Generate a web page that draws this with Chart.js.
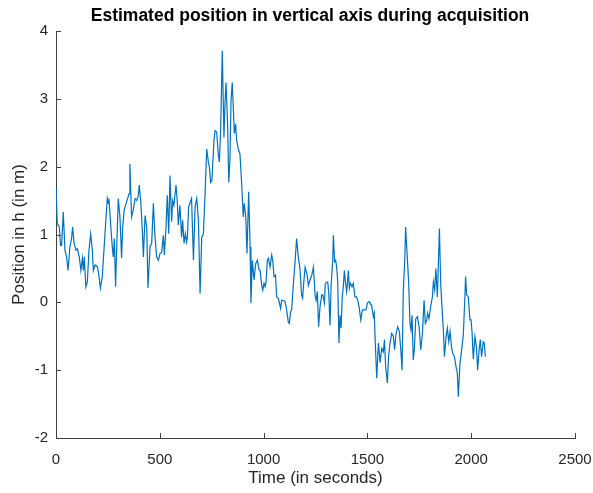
<!DOCTYPE html>
<html>
<head>
<meta charset="utf-8">
<script src="https://cdn.jsdelivr.net/npm/chart.js@4"></script>
<style>
html,body{margin:0;padding:0;background:#fff;}
canvas{display:block;}
</style>
</head>
<body>
<canvas id="c" width="593" height="493"></canvas>
<script>
const chartTitle = "Estimated position in vertical axis during acquisition";
const xAxisTitle = "Time (in seconds)";
const yAxisTitle = "Position in h (in m)";
const xTickValues = [0, 500, 1000, 1500, 2000, 2500];
const yTickValues = [-2, -1, 0, 1, 2, 3, 4];

const times = [
0,6,16,22,27,35,43,51,58,67,75,80,87,96,103,112,120,127,132,136,144,151,159,167,175,180,188,199,205,214,223,236,247,252,255,263,271,276,281,287,292,300,308,316,321,328,340,352,356,364,372,381,389,397,401,408,416,421,429,437,443,453,461,469,477,485,493,501,509,517,522,530,536,543,549,557,562,568,578,584,589,597,
605,610,617,623,629,633,639,
645,653,662,670,678,686,694,702,710,718,726,734,739,745,751,761,766,774,782,787,793,801,809,814,819,827,832,838,843,849,854,859,865,870,878,886,894,902,907,914,920,928,935,939,946,954,962,970,978,
983,991,996,1002,1007,1012,1018,1023,1031,1039,1044,1050,1057,1063,1071,1082,1087,1095,1103,1111,1119,1124,1130,1135,1143,1151,1159,1167,1175,1183,1188,1193,1200,1208,1216,1224,1232,1240,1248,1253,1259,1265,1272,1280,1285,1293,1297,1304,1309,1314,1320,1325,1333,1336,1342,1347,1352,1357,1363,1368,1373,1379,1384,1389,1394,1400,1405,1408,1413,1418,1426,1432,1440,1448,1455,1461,1468,1476,1484,1493,1500,1508,
1512,1520,1529,1533,1538,1545,1553,1561,1569,1577,1582,1588,1596,1602,1609,1617,1625,1631,1638,1646,1654,1662,1667,1673,1680,1684,1692,1699,1705,1710,1715,1721,1726,1733,1741,1749,1757,1765,1773,1779,1786,1790,1797,1805,1813,1818,1824,1830,1837,1847,1853,1859,1866,1871,1879,1885,1892,1898,1906,1911,1919,1927,1933,1938,1946,1954,1962,1969,1973,1978,1986,1994,1999,2004,2010,2018,2025,2031,2038,2044,2050,2058,2063,2068
];

const positions = [
1.70,1.16,1.11,0.84,0.84,1.33,0.77,0.67,0.47,0.82,0.94,1.11,0.87,0.77,0.79,0.67,0.47,0.65,0.47,0.67,0.23,0.30,0.77,1.01,0.77,0.47,0.55,0.53,0.43,0.21,0.38,1.01,1.53,1.46,1.53,1.16,0.82,0.67,0.94,0.23,0.77,1.53,1.26,0.65,1.09,1.36,1.48,1.60,2.04,1.26,1.36,1.53,1.50,1.58,1.73,1.50,1.06,0.67,1.28,1.11,0.21,0.82,0.87,1.46,0.96,0.67,0.62,0.72,0.74,0.99,0.70,1.11,1.58,1.01,1.87,1.19,1.50,1.43,1.73,1.50,1.14,1.43,
0.96,1.21,0.87,1.01,0.89,0.96,1.41,
1.46,1.53,0.62,1.41,1.53,1.21,0.13,0.96,1.01,1.60,2.26,2.07,1.99,1.77,1.80,2.39,2.53,2.51,2.17,2.07,2.53,3.71,2.43,2.93,3.24,2.58,1.77,2.11,2.97,3.24,2.88,2.49,2.63,2.39,2.26,2.19,1.77,1.26,1.46,1.26,0.72,1.63,0.82,-0.01,0.62,0.33,0.57,0.62,0.48,
0.47,0.25,0.18,0.28,0.23,0.30,0.62,0.65,0.52,0.70,0.62,0.38,0.40,0.08,0.06,-0.09,0.03,0.03,0.01,-0.11,-0.29,-0.31,-0.14,-0.11,0.25,0.57,0.94,0.67,0.50,0.11,0.06,0.28,0.52,0.43,0.25,0.33,0.40,0.52,0.11,0.03,0.16,-0.36,-0.06,0.11,0.11,-0.01,0.27,0.30,0.30,0.13,-0.34,0.23,0.62,0.99,0.60,0.62,0.52,0.30,-0.60,-0.19,-0.38,0.08,0.23,0.47,0.30,0.16,0.33,0.47,0.21,0.28,0.23,0.28,0.08,0.08,0.01,-0.09,-0.26,-0.11,-0.11,-0.11,-0.01,0.01,
-0.01,-0.04,-0.21,-0.16,-0.60,-1.12,-0.60,-0.89,-0.68,-0.73,-0.55,-0.95,-1.19,-0.80,-0.60,-0.46,-0.50,-0.70,-0.46,-0.36,-0.43,-0.75,-1.00,0.18,0.62,1.11,0.67,0.28,-0.31,-0.41,-0.19,-0.85,-0.70,-0.24,-0.21,-0.36,-0.70,-0.46,0.03,-0.31,-0.26,-0.16,-0.24,-0.06,0.08,0.30,0.18,0.50,0.08,1.09,0.28,-0.06,-0.41,-0.80,-0.51,-0.38,-0.58,-0.43,-0.68,-0.75,-0.80,-0.95,-1.04,-1.39,-0.90,-0.70,-0.48,0.03,0.38,0.11,0.08,-0.26,-0.26,-0.43,-0.84,-0.51,-0.65,-1.00,-0.70,-0.55,-0.80,-0.58,-0.60,-0.80
];

const FONT = "'Liberation Sans', Arial, Helvetica, sans-serif";
const AXIS_COLOR = '#404040';
const TEXT_COLOR = '#262626';

const inwardTicks = {
  id: 'inwardTicks',
  afterDatasetsDraw(chart) {
    const {ctx, chartArea, scales} = chart;
    const xs = scales.x, ys = scales.y;
    ctx.save();
    ctx.strokeStyle = AXIS_COLOR;
    ctx.lineWidth = 1;
    ctx.beginPath();
    xs.ticks.forEach((t, i) => {
      const px = Math.round(xs.getPixelForTick(i)) + 0.5;
      ctx.moveTo(px, chartArea.bottom);
      ctx.lineTo(px, chartArea.bottom - 5);
    });
    ys.ticks.forEach((t, i) => {
      const py = Math.round(ys.getPixelForTick(i)) + 0.5;
      ctx.moveTo(chartArea.left, py);
      ctx.lineTo(chartArea.left + 5, py);
    });
    ctx.stroke();
    ctx.restore();
  }
};

new Chart(document.getElementById('c'), {
  type: 'line',
  data: {
    datasets: [{
      data: times.map((t, i) => ({x: t, y: positions[i]})),
      borderColor: '#0072BD',
      borderWidth: 1.2,
      pointRadius: 0,
      tension: 0,
      fill: false
    }]
  },
  options: {
    responsive: false,
    animation: false,
    layout: {padding: {left: 27, right: 0, top: 0, bottom: 0}},
    plugins: {
      legend: {display: false},
      tooltip: {enabled: false},
      title: {
        display: true,
        text: chartTitle,
        fullSize: true,
        color: '#000',
        font: {family: FONT, size: 17.5, weight: 'bold', lineHeight: 1.2},
        padding: {top: 6.1, bottom: 3.9}
      }
    },
    scales: {
      x: {
        type: 'linear',
        min: xTickValues[0],
        max: xTickValues[xTickValues.length - 1],
        afterBuildTicks: (s) => { s.ticks = xTickValues.map(v => ({value: v})); },
        grid: {display: false, drawTicks: false},
        border: {display: true, color: AXIS_COLOR, width: 1},
        ticks: {color: TEXT_COLOR, font: {family: FONT, size: 15}, padding: 12.5, maxRotation: 0,
                callback: (v) => String(v)},
        title: {display: true, text: xAxisTitle, color: TEXT_COLOR,
                font: {family: FONT, size: 17, lineHeight: 1.2}, padding: {top: 0, bottom: 4.7}},
        afterFit: (s) => { s.height = 55; s.paddingRight = 18; }
      },
      y: {
        type: 'linear',
        min: yTickValues[0],
        max: yTickValues[yTickValues.length - 1],
        afterBuildTicks: (s) => { s.ticks = yTickValues.map(v => ({value: v})); },
        grid: {display: false, drawTicks: false},
        border: {display: true, color: AXIS_COLOR, width: 1},
        ticks: {color: TEXT_COLOR, font: {family: FONT, size: 15}, padding: 8,
                callback: (v) => String(v)},
        title: {display: true, text: yAxisTitle, color: TEXT_COLOR,
                font: {family: FONT, size: 17, lineHeight: 1.2}, padding: {top: -18.1, bottom: 0}},
        afterFit: (s) => { s.width = 29; }
      }
    }
  },
  plugins: [inwardTicks]
});
</script>
</body>
</html>
